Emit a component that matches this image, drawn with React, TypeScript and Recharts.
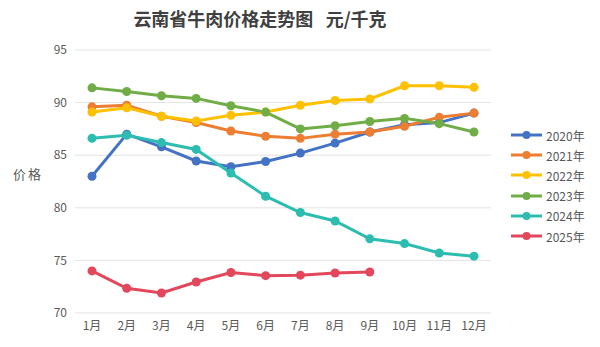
import React from 'react';
import { LineChart, Line, XAxis, YAxis, CartesianGrid } from 'recharts';

const months = ['1月', '2月', '3月', '4月', '5月', '6月', '7月', '8月', '9月', '10月', '11月', '12月'];

const y2020 = [83.0, 87.0, 85.8, 84.45, 83.9, 84.4, 85.2, 86.15, 87.2, 87.9, 88.1, 89.0];
const y2021 = [89.6, 89.75, 88.7, 88.1, 87.3, 86.8, 86.6, 87.0, 87.2, 87.75, 88.6, 89.0];
const y2022 = [89.1, 89.5, 88.7, 88.25, 88.8, 89.1, 89.75, 90.2, 90.35, 91.6, 91.6, 91.45];
const y2023 = [91.4, 91.05, 90.65, 90.4, 89.7, 89.1, 87.5, 87.8, 88.2, 88.5, 88.0, 87.2];
const y2024 = [86.6, 86.9, 86.2, 85.55, 83.3, 81.1, 79.55, 78.75, 77.05, 76.6, 75.7, 75.4];
const y2025 = [74.0, 72.35, 71.9, 72.95, 73.85, 73.55, 73.6, 73.8, 73.9];

const yTicks = [70, 75, 80, 85, 90, 95];

const series = [
  { key: '2020年', values: y2020, color: '#4472C4' },
  { key: '2021年', values: y2021, color: '#ED7D31' },
  { key: '2022年', values: y2022, color: '#FFC000' },
  { key: '2023年', values: y2023, color: '#70AD47' },
  { key: '2024年', values: y2024, color: '#2DBDB0' },
  { key: '2025年', values: y2025, color: '#E2475B' },
];

const data = months.map((m, i) => {
  const row: Record<string, string | number | undefined> = { month: m };
  series.forEach((s) => {
    row[s.key] = s.values[i];
  });
  return row;
});

const font = '"Noto Sans CJK SC", "Noto Sans", sans-serif';

// legend sits outside the chart so it doesn't shrink the plot
const ChartLegend = () => (
  <div style={{ position: 'absolute', left: 510, top: 125 }}>
    {series.map((s) => (
      <div key={s.key} style={{ display: 'flex', alignItems: 'center', height: 20.2 }}>
        <svg width={33} height={10} style={{ marginRight: 3 }}>
          <line x1={1} y1={5} x2={32} y2={5} stroke={s.color} strokeWidth={3} />
          <circle cx={16.5} cy={5} r={4} fill={s.color} />
        </svg>
        <span style={{ fontSize: 12, color: '#595959', fontFamily: font }}>{s.key}</span>
      </div>
    ))}
  </div>
);

export default function App() {
  return (
    <div style={{ position: 'absolute', left: 0, top: 0, width: 600, height: 347, background: '#fff', fontFamily: font }}>
      <div
        style={{
          position: 'absolute',
          left: 0,
          top: 5,
          width: 520,
          textAlign: 'center',
          fontSize: 18,
          fontWeight: 'bold',
          color: '#404040',
          whiteSpace: 'pre',
        }}
      >
        {'云南省牛肉价格走势图   元/千克'}
      </div>
      <div style={{ position: 'absolute', left: 13, top: 164, fontSize: 13, color: '#595959', letterSpacing: 2 }}>价格</div>
      <LineChart width={600} height={347} data={data} margin={{ top: 50, right: 109, bottom: 4, left: 0 }}>
        <CartesianGrid vertical={false} stroke="#e3e3e3" />
        <XAxis
          dataKey="month"
          axisLine={false}
          tickLine={false}
          padding={{ left: 17, right: 17 }}
          tick={{ fontSize: 12, fill: '#595959', fontFamily: font }}
          height={30}
          interval={0}
        />
        <YAxis
          domain={[70, 95]}
          ticks={yTicks}
          axisLine={false}
          tickLine={false}
          width={75}
          tick={{ fontSize: 12, fill: '#595959', fontFamily: font }}
        />
        {series.map((s) => (
          <Line
            key={s.key}
            dataKey={s.key}
            stroke={s.color}
            strokeWidth={3}
            dot={{ r: 4.5, fill: s.color, stroke: s.color, strokeWidth: 0 }}
            activeDot={false}
            isAnimationActive={false}
          />
        ))}
      </LineChart>
      <ChartLegend />
    </div>
  );
}
